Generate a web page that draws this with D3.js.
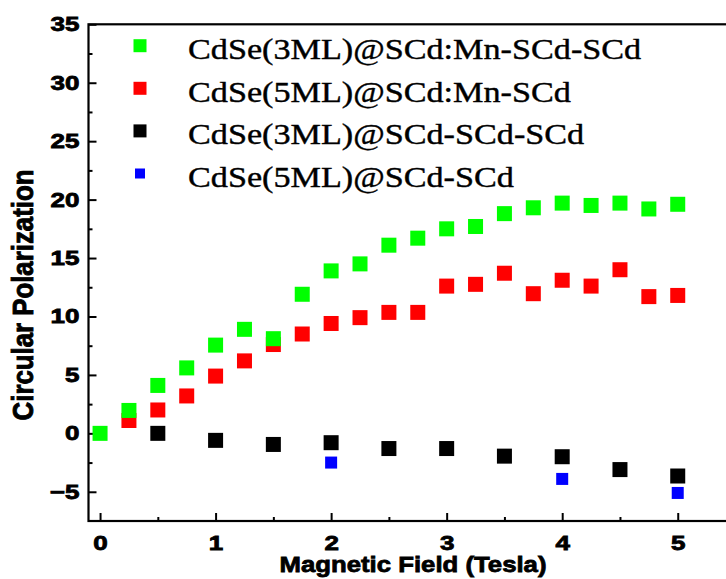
<!DOCTYPE html>
<html>
<head>
<meta charset="utf-8">
<title>Circular Polarization vs Magnetic Field</title>
<script src="https://cdn.jsdelivr.net/npm/d3@7"></script>
<style>
  body { margin: 0; background: #fff; }
  svg { display: block; }
</style>
</head>
<body>
<script>
// data
var greenField = [0, 0.25, 0.5, 0.75, 1, 1.25, 1.5, 1.75, 2, 2.25, 2.5, 2.75, 3, 3.25, 3.5, 3.75, 4, 4.25, 4.5, 4.75, 5];
var greenVals  = [0.0, 1.96, 4.1, 5.6, 7.55, 8.9, 8.1, 11.9, 13.9, 14.5, 16.1, 16.7, 17.5, 17.7, 18.8, 19.3, 19.7, 19.5, 19.7, 19.2, 19.6];

var redField = [0.25, 0.5, 0.75, 1, 1.25, 1.5, 1.75, 2, 2.25, 2.5, 2.75, 3, 3.25, 3.5, 3.75, 4, 4.25, 4.5, 4.75, 5];
var redVals  = [1.1, 2.0, 3.2, 4.9, 6.2, 7.6, 8.5, 9.4, 9.9, 10.35, 10.35, 12.6, 12.75, 13.7, 11.95, 13.1, 12.6, 14.0, 11.7, 11.8];

var blackField = [0.5, 1, 1.5, 2, 2.5, 3, 3.5, 4, 4.5, 5];
var blackVals  = [0.0, -0.6, -0.95, -0.8, -1.3, -1.3, -1.95, -2.0, -3.1, -3.65];

var blueField = [2, 4, 5];
var blueVals  = [-2.5, -3.9, -5.1];

var seriesNames = ["CdSe(3ML)@SCd:Mn-SCd-SCd", "CdSe(5ML)@SCd:Mn-SCd", "CdSe(3ML)@SCd-SCd-SCd", "CdSe(5ML)@SCd-SCd"];
var seriesColors = ["#00ff00", "#ff0000", "#000000", "#0000ff"];

var xTicks = [0, 1, 2, 3, 4, 5];
var xMinor = [0.5, 1.5, 2.5, 3.5, 4.5];
var yTicks = [-5, 0, 5, 10, 15, 20, 25, 30, 35];
var yMinor = [-2.5, 2.5, 7.5, 12.5, 17.5, 22.5, 27.5, 32.5];

var width = 726, height = 579;
var plotL = 88.5, plotR = 735.5, plotT = 24.3, plotB = 521;
var stretch = 1.14;

var svg = d3.select("body").append("svg")
  .attr("width", width)
  .attr("height", height);

var x = d3.scaleLinear().domain([-0.1, 5.5]).range([plotL, plotR]);
var y = d3.scaleLinear().domain([-7.5, 35]).range([plotB, plotT]);

// frame
svg.append("rect")
  .attr("x", plotL).attr("y", plotT)
  .attr("width", plotR - plotL).attr("height", plotB - plotT)
  .attr("fill", "none").attr("stroke", "#000").attr("stroke-width", 2.2);

// x axis
var gx = svg.append("g").attr("transform", "translate(0," + plotB + ")")
  .call(d3.axisBottom(x).tickValues(xTicks).tickSizeInner(-8).tickSizeOuter(0).tickPadding(15).tickFormat(d3.format("d")));
svg.append("g").attr("transform", "translate(0," + plotB + ")")
  .call(d3.axisBottom(x).tickValues(xMinor).tickSizeInner(-4).tickSizeOuter(0).tickFormat(""));

// y axis
var gy = svg.append("g").attr("transform", "translate(" + plotL + ",0)")
  .call(d3.axisLeft(y).tickValues(yTicks).tickSizeInner(-8).tickSizeOuter(0).tickPadding(9).tickFormat(d3.format("d")));
svg.append("g").attr("transform", "translate(" + plotL + ",0)")
  .call(d3.axisLeft(y).tickValues(yMinor).tickSizeInner(-4).tickSizeOuter(0).tickFormat(""));

svg.selectAll(".domain").remove();
svg.selectAll(".tick line").attr("stroke", "#000").attr("stroke-width", 2);

svg.selectAll(".tick text")
  .attr("font-family", "'Liberation Sans', Arial, sans-serif")
  .attr("font-weight", "bold")
  .attr("font-size", 20)
  .attr("fill", "#000")
  .attr("stroke", "#000")
  .attr("stroke-width", 0.8);

gx.selectAll(".tick text").attr("transform", "scale(1.3,1)");
gy.selectAll(".tick text")
  .attr("x", 0)
  .attr("transform", "translate(-9,0) scale(1.3,1)");

// axis titles
svg.append("text")
  .attr("transform", "translate(413,572) scale(1.12,1)")
  .attr("text-anchor", "middle")
  .attr("font-family", "'Liberation Sans', Arial, sans-serif")
  .attr("font-weight", "bold")
  .attr("font-size", 23)
  .attr("stroke", "#000")
  .attr("stroke-width", 0.8)
  .text("Magnetic Field (Tesla)");

svg.append("text")
  .attr("transform", "translate(33,295) scale(1.13,1) rotate(-90)")
  .attr("text-anchor", "middle")
  .attr("font-family", "'Liberation Sans', Arial, sans-serif")
  .attr("font-weight", "bold")
  .attr("font-size", 25.8)
  .attr("stroke", "#000")
  .attr("stroke-width", 0.8)
  .text("Circular Polarization");

// points
function drawSeries(xs, ys, color, size) {
  svg.append("g").selectAll("rect")
    .data(xs.map(function(d, i) { return [d, ys[i]]; }))
    .enter().append("rect")
    .attr("x", function(d) { return x(d[0]) - size / 2; })
    .attr("y", function(d) { return y(d[1]) - size / 2; })
    .attr("width", size).attr("height", size)
    .attr("fill", color);
}
drawSeries(blueField, blueVals, seriesColors[3], 12);
drawSeries(blackField, blackVals, seriesColors[2], 15);
drawSeries(redField, redVals, seriesColors[1], 15);
drawSeries(greenField, greenVals, seriesColors[0], 15);

// legend
var legend = svg.append("g");
seriesNames.forEach(function(name, i) {
  var cy = 45.7 + i * 42.6;
  var s = i === 3 ? 10 : 13;
  legend.append("rect")
    .attr("x", 140 - s / 2).attr("y", cy - s / 2)
    .attr("width", s).attr("height", s)
    .attr("fill", seriesColors[i]);
  legend.append("text")
    .attr("transform", "translate(188," + (cy + 13.3) + ") scale(" + stretch + ",1)")
    .attr("font-family", "'Liberation Serif', 'Times New Roman', serif")
    .attr("font-size", 30)
    .attr("fill", "#000")
    .attr("stroke", "#000")
    .attr("stroke-width", 0.4)
    .text(name);
});
</script>
</body>
</html>
